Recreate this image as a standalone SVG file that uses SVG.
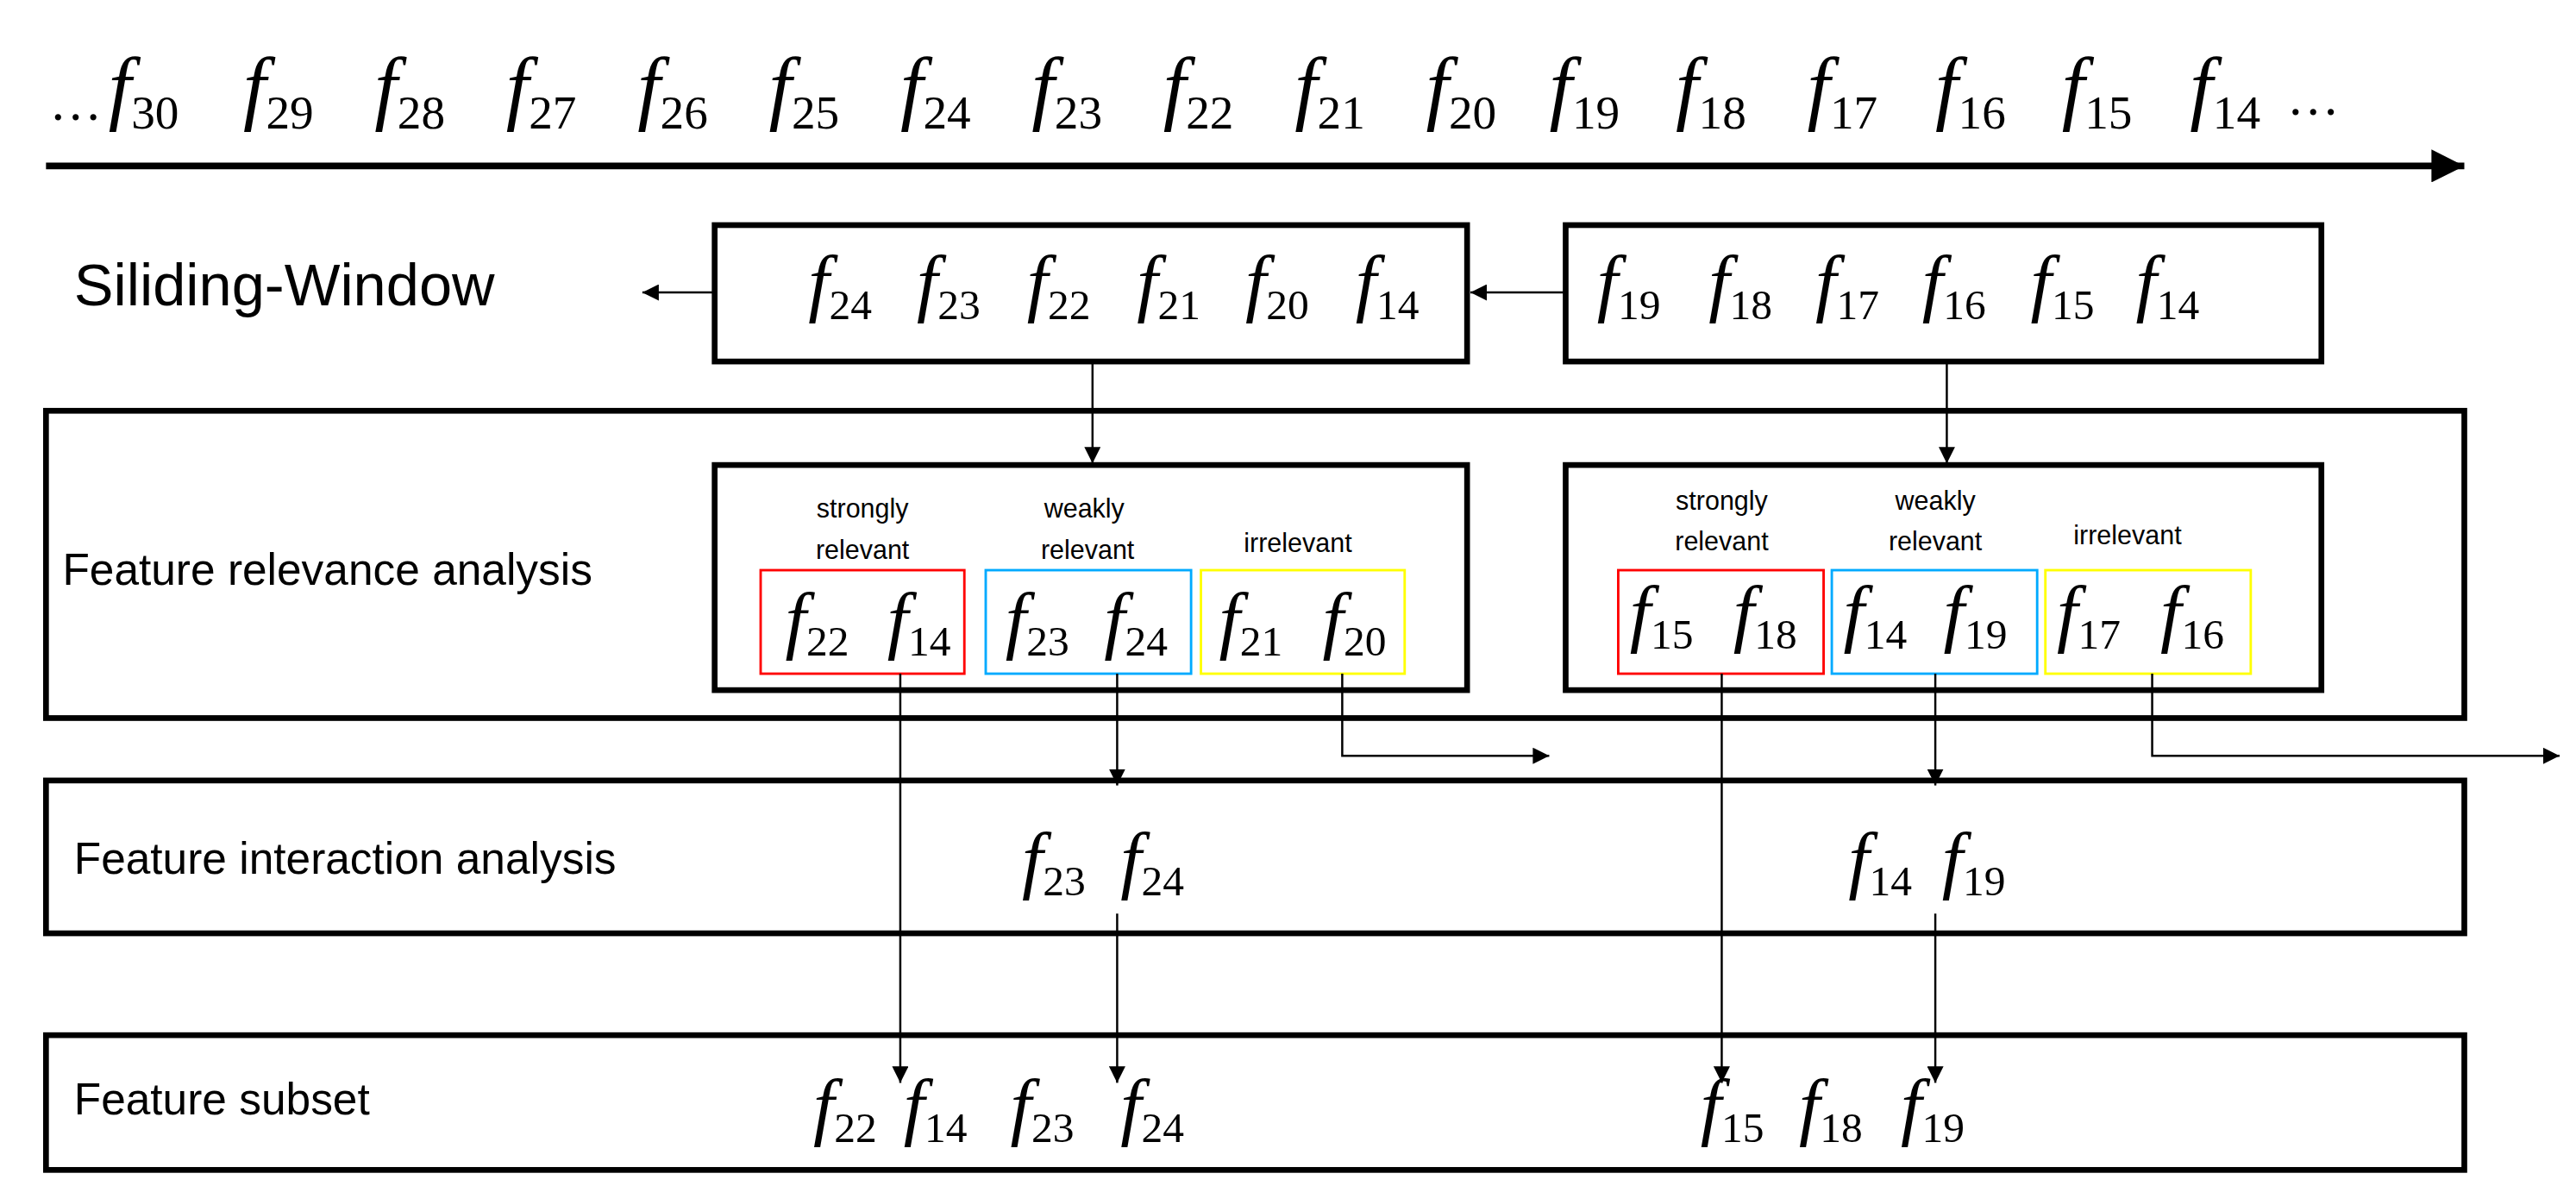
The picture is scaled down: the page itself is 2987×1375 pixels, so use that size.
<svg xmlns="http://www.w3.org/2000/svg" width="2987" height="1375" viewBox="0 0 2987 1375">
<defs>
<marker id="ah" viewBox="0 0 10 10" refX="10" refY="5" markerWidth="10" markerHeight="10" markerUnits="userSpaceOnUse" orient="auto"><path d="M0,0L10,5L0,10z" fill="#000"/></marker>
<marker id="ahb" viewBox="0 0 10 10" refX="10" refY="5" markerWidth="5" markerHeight="5" orient="auto"><path d="M0,0L10,5L0,10z" fill="#000"/></marker>
<style>
.f{font-family:"Liberation Serif",serif;font-style:italic;font-size:46px}
.s{font-style:normal;font-size:26px}
.top{font-size:50px}
.top .s{font-size:29px}
.el{font-family:"Liberation Serif",serif;font-size:32px}
.lab{font-family:"Liberation Sans",Arial,sans-serif;font-size:27px}
.sm{font-family:"Liberation Sans",Arial,sans-serif;font-size:16px;text-anchor:middle}
.box{fill:none;stroke:#000;stroke-width:3.5}
.c{fill:none;stroke:#000;stroke-width:1.3}
</style>
</defs>
<rect width="2987" height="1375" fill="#fff"/>
<g transform="scale(1.905)">
<g id="timeline">
<text class="el" x="30" y="73">…</text>
<text class="f top" x="66" y="70">f<tspan class="s" dy="8">30</tspan></text>
<text class="f top" x="148" y="70">f<tspan class="s" dy="8">29</tspan></text>
<text class="f top" x="228" y="70">f<tspan class="s" dy="8">28</tspan></text>
<text class="f top" x="308" y="70">f<tspan class="s" dy="8">27</tspan></text>
<text class="f top" x="388" y="70">f<tspan class="s" dy="8">26</tspan></text>
<text class="f top" x="468" y="70">f<tspan class="s" dy="8">25</tspan></text>
<text class="f top" x="548" y="70">f<tspan class="s" dy="8">24</tspan></text>
<text class="f top" x="628" y="70">f<tspan class="s" dy="8">23</tspan></text>
<text class="f top" x="708" y="70">f<tspan class="s" dy="8">22</tspan></text>
<text class="f top" x="788" y="70">f<tspan class="s" dy="8">21</tspan></text>
<text class="f top" x="868" y="70">f<tspan class="s" dy="8">20</tspan></text>
<text class="f top" x="943" y="70">f<tspan class="s" dy="8">19</tspan></text>
<text class="f top" x="1020" y="70">f<tspan class="s" dy="8">18</tspan></text>
<text class="f top" x="1100" y="70">f<tspan class="s" dy="8">17</tspan></text>
<text class="f top" x="1178" y="70">f<tspan class="s" dy="8">16</tspan></text>
<text class="f top" x="1255" y="70">f<tspan class="s" dy="8">15</tspan></text>
<text class="f top" x="1333" y="70">f<tspan class="s" dy="8">14</tspan></text>
<text class="el" x="1392" y="70">…</text>
<line x1="28" y1="101" x2="1500" y2="101" stroke="#000" stroke-width="4" marker-end="url(#ahb)"/>
</g>
<g id="sliding-label"><text class="lab" x="45" y="186" style="font-size:36px">Siliding-Window</text></g>
<g id="window1"><rect class="box" x="435" y="137" width="458" height="83"/>
<text class="f" x="492" y="187">f<tspan class="s" dy="7">24</tspan></text>
<text class="f" x="558" y="187">f<tspan class="s" dy="7">23</tspan></text>
<text class="f" x="625" y="187">f<tspan class="s" dy="7">22</tspan></text>
<text class="f" x="692" y="187">f<tspan class="s" dy="7">21</tspan></text>
<text class="f" x="758" y="187">f<tspan class="s" dy="7">20</tspan></text>
<text class="f" x="825" y="187">f<tspan class="s" dy="7">14</tspan></text></g>
<g id="window2"><rect class="box" x="953" y="137" width="460" height="83"/>
<text class="f" x="972" y="187">f<tspan class="s" dy="7">19</tspan></text>
<text class="f" x="1040" y="187">f<tspan class="s" dy="7">18</tspan></text>
<text class="f" x="1105" y="187">f<tspan class="s" dy="7">17</tspan></text>
<text class="f" x="1170" y="187">f<tspan class="s" dy="7">16</tspan></text>
<text class="f" x="1236" y="187">f<tspan class="s" dy="7">15</tspan></text>
<text class="f" x="1300" y="187">f<tspan class="s" dy="7">14</tspan></text></g>
<g id="relevance"><rect class="box" x="28" y="250" width="1472" height="187"/>
<text class="lab" x="38" y="356">Feature relevance analysis</text></g>
<g id="rel1"><rect class="box" x="435" y="283" width="458" height="137"/>
<text class="sm" x="525" y="315">strongly</text><text class="sm" x="525" y="340">relevant</text>
<text class="sm" x="660" y="315">weakly</text><text class="sm" x="662" y="340">relevant</text>
<text class="sm" x="790" y="336">irrelevant</text>
<rect x="463" y="347" width="124" height="63" fill="none" stroke="#f00" stroke-width="1.5"/>
<rect x="600" y="347" width="125" height="63" fill="none" stroke="#0af" stroke-width="1.5"/>
<rect x="731" y="347" width="124" height="63" fill="none" stroke="#ff0" stroke-width="1.5"/>
<text class="f" x="478" y="392">f<tspan class="s" dy="7">22</tspan></text>
<text class="f" x="540" y="392">f<tspan class="s" dy="7">14</tspan></text>
<text class="f" x="612" y="392">f<tspan class="s" dy="7">23</tspan></text>
<text class="f" x="672" y="392">f<tspan class="s" dy="7">24</tspan></text>
<text class="f" x="742" y="392">f<tspan class="s" dy="7">21</tspan></text>
<text class="f" x="805" y="392">f<tspan class="s" dy="7">20</tspan></text></g>
<g id="rel2"><rect class="box" x="953" y="283" width="460" height="137"/>
<text class="sm" x="1048" y="310">strongly</text><text class="sm" x="1048" y="335">relevant</text>
<text class="sm" x="1178" y="310">weakly</text><text class="sm" x="1178" y="335">relevant</text>
<text class="sm" x="1295" y="331">irrelevant</text>
<rect x="985" y="347" width="125" height="63" fill="none" stroke="#f00" stroke-width="1.5"/>
<rect x="1115" y="347" width="125" height="63" fill="none" stroke="#0af" stroke-width="1.5"/>
<rect x="1245" y="347" width="125" height="63" fill="none" stroke="#ff0" stroke-width="1.5"/>
<text class="f" x="992" y="388">f<tspan class="s" dy="7">15</tspan></text>
<text class="f" x="1055" y="388">f<tspan class="s" dy="7">18</tspan></text>
<text class="f" x="1122" y="388">f<tspan class="s" dy="7">14</tspan></text>
<text class="f" x="1183" y="388">f<tspan class="s" dy="7">19</tspan></text>
<text class="f" x="1252" y="388">f<tspan class="s" dy="7">17</tspan></text>
<text class="f" x="1315" y="388">f<tspan class="s" dy="7">16</tspan></text></g>
<g id="interaction"><rect class="box" x="28" y="475" width="1472" height="93"/>
<text class="lab" x="45" y="532">Feature interaction analysis</text>
<text class="f" x="622" y="538">f<tspan class="s" dy="7">23</tspan></text>
<text class="f" x="682" y="538">f<tspan class="s" dy="7">24</tspan></text>
<text class="f" x="1125" y="538">f<tspan class="s" dy="7">14</tspan></text>
<text class="f" x="1182" y="538">f<tspan class="s" dy="7">19</tspan></text></g>
<g id="subset"><rect class="box" x="28" y="630" width="1472" height="82"/>
<text class="lab" x="45" y="678">Feature subset</text>
<text class="f" x="495" y="688">f<tspan class="s" dy="7">22</tspan></text>
<text class="f" x="550" y="688">f<tspan class="s" dy="7">14</tspan></text>
<text class="f" x="615" y="688">f<tspan class="s" dy="7">23</tspan></text>
<text class="f" x="682" y="688">f<tspan class="s" dy="7">24</tspan></text>
<text class="f" x="1035" y="688">f<tspan class="s" dy="7">15</tspan></text>
<text class="f" x="1095" y="688">f<tspan class="s" dy="7">18</tspan></text>
<text class="f" x="1157" y="688">f<tspan class="s" dy="7">19</tspan></text></g>
<g id="connectors">
<line class="c" x1="953" y1="178" x2="895" y2="178" marker-end="url(#ah)"/>
<line class="c" x1="435" y1="178" x2="391" y2="178" marker-end="url(#ah)"/>
<line class="c" x1="665" y1="220" x2="665" y2="282" marker-end="url(#ah)"/>
<line class="c" x1="1185" y1="220" x2="1185" y2="282" marker-end="url(#ah)"/>
<line class="c" x1="548" y1="410" x2="548" y2="659" marker-end="url(#ah)"/>
<line class="c" x1="680" y1="410" x2="680" y2="478" marker-end="url(#ah)"/>
<line class="c" x1="680" y1="556" x2="680" y2="659" marker-end="url(#ah)"/>
<polyline class="c" points="817,410 817,460 943,460" marker-end="url(#ah)"/>
<line class="c" x1="1048" y1="410" x2="1048" y2="659" marker-end="url(#ah)"/>
<line class="c" x1="1178" y1="410" x2="1178" y2="478" marker-end="url(#ah)"/>
<line class="c" x1="1178" y1="556" x2="1178" y2="659" marker-end="url(#ah)"/>
<polyline class="c" points="1310,410 1310,460 1558,460" marker-end="url(#ah)"/>
</g>
</g>
</svg>
